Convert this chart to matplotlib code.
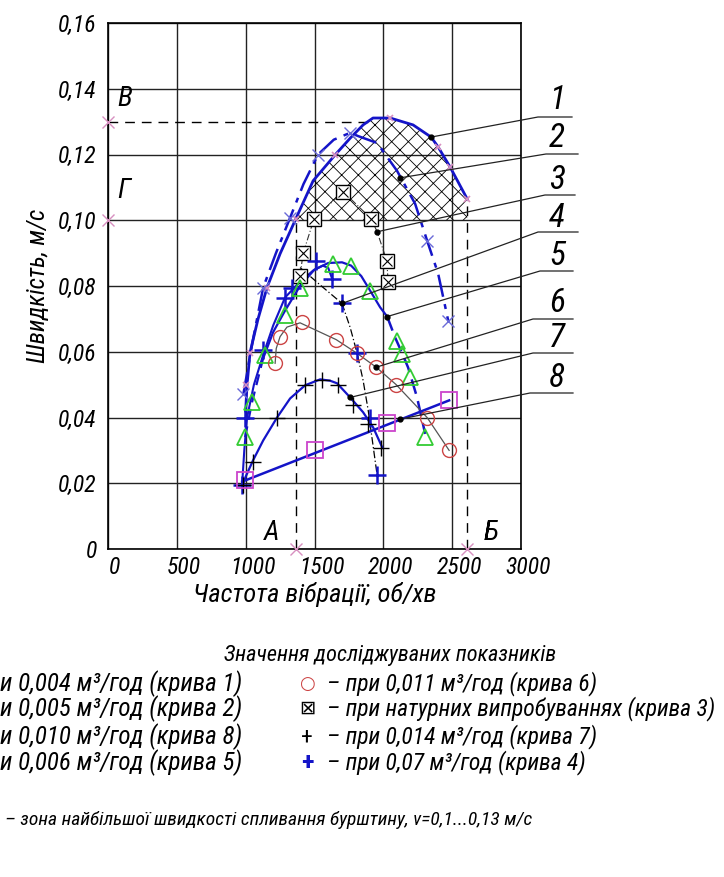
import matplotlib
matplotlib.use("Agg")
import matplotlib.pyplot as plt
import matplotlib.transforms as mtransforms
from matplotlib import font_manager


def pick_font(names):
    for n in names:
        try:
            font_manager.findfont(font_manager.FontProperties(family=n), fallback_to_default=False)
            return n
        except Exception:
            pass
    return 'DejaVu Sans'


FONT = pick_font(['Liberation Sans Narrow', 'Roboto Condensed', 'DejaVu Sans'])
plt.rcParams['font.family'] = [FONT, 'DejaVu Sans']
plt.rcParams['font.style'] = 'italic'
plt.rcParams['hatch.linewidth'] = 0.6

# ---- data (frequency, rpm / speed, m/s) ----
# curve 1 - 0,004 m3/h
c1_x = [1000, 1010, 1032, 1090, 1155, 1250, 1365, 1490, 1650, 1760, 1853, 1925, 2050, 2216, 2347, 2398, 2485, 2609]
c1_y = [0.042, 0.050, 0.0598, 0.070, 0.0795, 0.0898, 0.1005, 0.112, 0.1199, 0.125, 0.129, 0.1311, 0.1311, 0.129,
        0.1253, 0.1223, 0.1162, 0.1065]
c1_mx = [1003, 1032, 1155, 1365, 1650, 2049, 2398, 2485, 2609]
c1_my = [0.050, 0.0595, 0.0795, 0.1005, 0.1199, 0.131, 0.1223, 0.1162, 0.1065]

# curve 2 - 0,005 m3/h
c2_x = [983, 1050, 1127, 1220, 1323, 1420, 1526, 1640, 1759, 1817, 1955, 2100, 2231, 2318, 2398, 2471]
c2_y = [0.047, 0.063, 0.0795, 0.090, 0.1008, 0.111, 0.120, 0.1245, 0.1266, 0.1256, 0.1235, 0.115, 0.105, 0.0938,
        0.0838, 0.0695]
c2_mx = [983, 1127, 1323, 1526, 1759, 2318, 2471]
c2_my = [0.047, 0.0795, 0.1008, 0.120, 0.1266, 0.0938, 0.0695]

# curve 3 - field tests
c3_x = [1395, 1417, 1497, 1708, 1911, 1955, 2025, 2035]
c3_y = [0.083, 0.0899, 0.1005, 0.1087, 0.1005, 0.0965, 0.0877, 0.0813]
c3_mx = [1395, 1417, 1497, 1708, 1911, 2025, 2035]
c3_my = [0.083, 0.0899, 0.1005, 0.1087, 0.1005, 0.0877, 0.0813]

# curve 4 - 0,07 m3/h
c4a_x = [974, 990, 1010, 1060, 1127, 1200, 1286, 1381, 1490, 1560, 1600, 1628]
c4a_y = [0.0195, 0.030, 0.040, 0.050, 0.059, 0.068, 0.0765, 0.0807, 0.0847, 0.0862, 0.0855, 0.0822]
c4b_x = [1395, 1550, 1700, 1759, 1810, 1853, 1890, 1940, 1955]
c4b_y = [0.0856, 0.080, 0.0747, 0.0674, 0.0595, 0.0513, 0.0422, 0.027, 0.0225]
c4_mx = [974, 996, 1127, 1286, 1337, 1512, 1628, 1700, 1810, 1904, 1955]
c4_my = [0.0195, 0.040, 0.0604, 0.0765, 0.0795, 0.0877, 0.0822, 0.0747, 0.0595, 0.040, 0.0225]

# curve 5 - 0,006 m3/h
c5_x = [996, 1046, 1127, 1200, 1286, 1395, 1500, 1600, 1700, 1766, 1840, 1904, 1977, 2028, 2086, 2137, 2180, 2245, 2304]
c5_y = [0.034, 0.0446, 0.058, 0.066, 0.0725, 0.080, 0.085, 0.087, 0.0872, 0.0862, 0.083, 0.0786, 0.0735, 0.0707,
        0.0643, 0.0595, 0.0552, 0.0461, 0.0350]
c5_mx = [996, 1046, 1141, 1286, 1395, 1635, 1766, 1904, 2100, 2137, 2195, 2304]
c5_my = [0.034, 0.0446, 0.0589, 0.0713, 0.0795, 0.0868, 0.0862, 0.0786, 0.0634, 0.0592, 0.0522, 0.034]

# curve 6 - 0,011 m3/h
c6_x = [1214, 1222, 1250, 1300, 1395, 1657, 1810, 1948, 2093, 2318, 2478]
c6_y = [0.0565, 0.061, 0.0646, 0.0675, 0.0688, 0.0637, 0.0595, 0.0553, 0.050, 0.040, 0.030]
c6_mx = [1214, 1250, 1410, 1657, 1810, 1948, 2093, 2318, 2478]
c6_my = [0.0565, 0.0646, 0.069, 0.0637, 0.0595, 0.0553, 0.050, 0.040, 0.030]

# curve 7 - 0,014 m3/h
c7_x = [975, 1000, 1054, 1127, 1228, 1323, 1432, 1541, 1613, 1664, 1759, 1853, 1926, 1991]
c7_y = [0.019, 0.022, 0.027, 0.033, 0.040, 0.0458, 0.0498, 0.0516, 0.0512, 0.0504, 0.0461, 0.0416, 0.037, 0.031]
c7_mx = [980, 1055, 1230, 1430, 1555, 1670, 1780, 1890, 1980]
c7_my = [0.0195, 0.0264, 0.040, 0.050, 0.0515, 0.050, 0.0437, 0.038, 0.0307]

# curve 8 - 0,010 m3/h
c8_x = [975, 2478]
c8_y = [0.0205, 0.0452]
c8_mx = [996, 1504, 2025, 2478]
c8_my = [0.0209, 0.030, 0.0382, 0.0452]

# zone boundaries
zone_v = [0.10, 0.13]
x_A = 1365
x_B = 2609
y_B_end = 0.1065
peak_x = 1925

# points where the numbered leaders end
lead_x = [2347, 2122, 1955, 1700, 2028, 1948, 1759, 2122]
lead_y = [0.1253, 0.1129, 0.0965, 0.0747, 0.0707, 0.0553, 0.0461, 0.0395]
lead_names = ['1', '2', '3', '4', '5', '6', '7', '8']

x_ticks = [0, 500, 1000, 1500, 2000, 2500, 3000]
y_ticks = [0, 0.02, 0.04, 0.06, 0.08, 0.10, 0.12, 0.14, 0.16]
y_labels = ['0', '0,02', '0,04', '0,06', '0,08', '0,10', '0,12', '0,14', '0,16']

BLUE = '#1414c8'
PINK = '#d890c0'

W, H = 724, 877
fig = plt.figure(figsize=(W / 100, H / 100), dpi=100)
ax = fig.add_axes([108 / W, 1 - 549 / H, 413 / W, 526 / H])
ax.set_xlim(0, 3000)
ax.set_ylim(0, 0.16)
ax.set_xticks(x_ticks)
ax.set_xticklabels([str(t) for t in x_ticks])
ax.set_yticks(y_ticks)
ax.set_yticklabels(y_labels)
ax.tick_params(length=0, labelsize=17, pad=5)
ax.tick_params(axis='y', pad=8)
ax.grid(True, color='#222222', lw=1.0)
ax.set_axisbelow(True)
for s in ax.spines.values():
    s.set_linewidth(1.2)
off = mtransforms.ScaledTranslation(0.07, 0, fig.dpi_scale_trans)
for lab in ax.get_xticklabels():
    lab.set_transform(lab.get_transform() + off)

ax.set_xlabel('Частота вібрації, об/хв', fontsize=19, labelpad=2)
ax.set_ylabel('Швидкість, м/с', fontsize=18, labelpad=6)

# zone of the highest speed
zx = [x for x in c1_x if x >= x_A]
zy = [y for x, y in zip(c1_x, c1_y) if x >= x_A]
ax.fill_between(zx, zone_v[0], zy, facecolor='none', edgecolor='black', hatch='xx', lw=0, zorder=2)
ax.plot([0, peak_x], [zone_v[1], zone_v[1]], color='black', ls=(0, (7, 5)), lw=1.0, zorder=3)
ax.plot([x_A, x_A], [0, zone_v[0]], color='black', ls=(0, (7, 5)), lw=1.0, zorder=3)
ax.plot([x_B, x_B], [0, y_B_end], color='black', ls=(0, (7, 5)), lw=1.0, zorder=3)
ax.plot([0, 0, x_A, x_B], [zone_v[1], zone_v[0], 0, 0], ls='none', marker='x', ms=9, mew=1.0,
        color=PINK, clip_on=False, zorder=6)
ax.text(70, 0.137, 'В', fontsize=20, ha='left', va='center')
ax.text(70, 0.109, 'Г', fontsize=20, ha='left', va='center')
ax.text(1190, 0.005, 'А', fontsize=20, ha='center', va='center')
ax.text(2780, 0.005, 'Б', fontsize=20, ha='center', va='center')

# curves
ax.plot(c1_x, c1_y, color=BLUE, lw=2.0, zorder=4)
ax.plot(c1_mx, c1_my, ls='none', marker='x', ms=5, mew=1.2, color=PINK, zorder=5)

ax.plot(c2_x, c2_y, color=BLUE, lw=1.8, ls=(0, (9, 3, 2, 3)), zorder=4)
ax.plot(c2_mx, c2_my, ls='none', marker='x', ms=9, mew=1.0, color='#6a6ad8', zorder=5)

ax.plot(c3_x, c3_y, color='#333333', lw=0.8, ls=(0, (6, 2, 1, 2)), zorder=4)
ax.plot(c3_mx, c3_my, ls='none', marker='s', ms=10, mfc='white', mec='black', mew=1.0, zorder=5)
ax.plot(c3_mx, c3_my, ls='none', marker='x', ms=7, mew=0.8, color='black', zorder=5)

ax.plot(c4a_x, c4a_y, color=BLUE, lw=1.5, zorder=4)
ax.plot(c4b_x, c4b_y, color='black', lw=0.9, ls=(0, (6, 2, 1, 2)), zorder=4)
ax.plot(c4_mx, c4_my, ls='none', marker='+', ms=13, mew=1.8, color=BLUE, zorder=5)

ax.plot(c5_x[:3], c5_y[:3], color=BLUE, lw=1.6, ls=(0, (5, 3)), zorder=4)
ax.plot(c5_x[2:14], c5_y[2:14], color=BLUE, lw=1.6, zorder=4)
ax.plot(c5_x[13:], c5_y[13:], color=BLUE, lw=1.8, ls=(0, (6, 3)), zorder=4)
ax.plot(c5_mx, c5_my, ls='none', marker='^', ms=11, mfc='none', mec='#33cc33', mew=1.3, zorder=5)

ax.plot(c6_x, c6_y, color='#555555', lw=0.9, zorder=4)
ax.plot(c6_mx, c6_my, ls='none', marker='o', ms=10, mfc='none', mec='#cc4444', mew=1.0, zorder=5)

ax.plot(c7_x, c7_y, color=BLUE, lw=1.6, zorder=4)
ax.plot(c7_mx, c7_my, ls='none', marker='+', ms=12, mew=1.0, color='black', zorder=5)

ax.plot(c8_x, c8_y, color=BLUE, lw=1.8, zorder=4)
ax.plot(c8_mx, c8_my, ls='none', marker='s', ms=11, mfc='none', mec='#cc44cc', mew=1.3, zorder=5)


# numbered leaders (pixel positions of the label shelves, right of the grid)
def px2d(px, py):
    return (px - 108) * 3000 / 413, (549 - py) * 0.16 / 526


shelf_px = [(538, 572, 117), (546, 578, 154), (545, 575, 195), (538, 578, 232),
            (540, 573, 271), (533, 573, 319), (533, 573, 353), (530, 573, 393)]
num_py = [100, 138, 180, 218, 256, 303, 338, 378]
for name, lx, ly, (sx0, sx1, sy), npy in zip(lead_names, lead_x, lead_y, shelf_px, num_py):
    x0, y0 = px2d(sx0, sy)
    x1, _ = px2d(sx1, sy)
    ax.plot([lx, x0, x1], [ly, y0, y0], color='#222222', lw=0.9, clip_on=False, zorder=6)
    ax.plot([lx], [ly], ls='none', marker='o', ms=3.5, color='black', zorder=7)
    tx, ty = px2d(557, npy)
    ax.text(tx, ty, name, fontsize=24, ha='center', va='center', clip_on=False)


# captions under the chart
def ftext(px, py, s, **kw):
    fig.text(px / W, 1 - py / H, s, va='center', **kw)


ftext(390, 655, 'Значення досліджуваних показників', fontsize=16, ha='center')
left_rows = ['и 0,004 м³/год (крива 1)', 'и 0,005 м³/год (крива 2)',
             'и 0,010 м³/год (крива 8)', 'и 0,006 м³/год (крива 5)']
right_rows = ['– при 0,011 м³/год (крива 6)', '– при натурних випробуваннях (крива 3)',
              '– при 0,014 м³/год (крива 7)', '– при 0,07 м³/год (крива 4)']
right_marks = [('○', '#cc4444', 13), ('⊠', 'black', 14), ('+', 'black', 17), ('+', BLUE, 19)]
rows_py = [684, 709, 737, 763]
for s, py in zip(left_rows, rows_py):
    ftext(0, py, s, fontsize=18, ha='left')
for s, (m, c, fs), py in zip(right_rows, right_marks, rows_py):
    ftext(307, py, m, fontsize=fs, ha='center', color=c, style='normal', weight='bold' if c == BLUE else 'normal')
    ftext(327, py, s, fontsize=17, ha='left')
ftext(5, 820, '– зона найбільшої швидкості спливання бурштину, v=0,1...0,13 м/с', fontsize=14, ha='left')

fig.savefig('out.png', dpi=100)
